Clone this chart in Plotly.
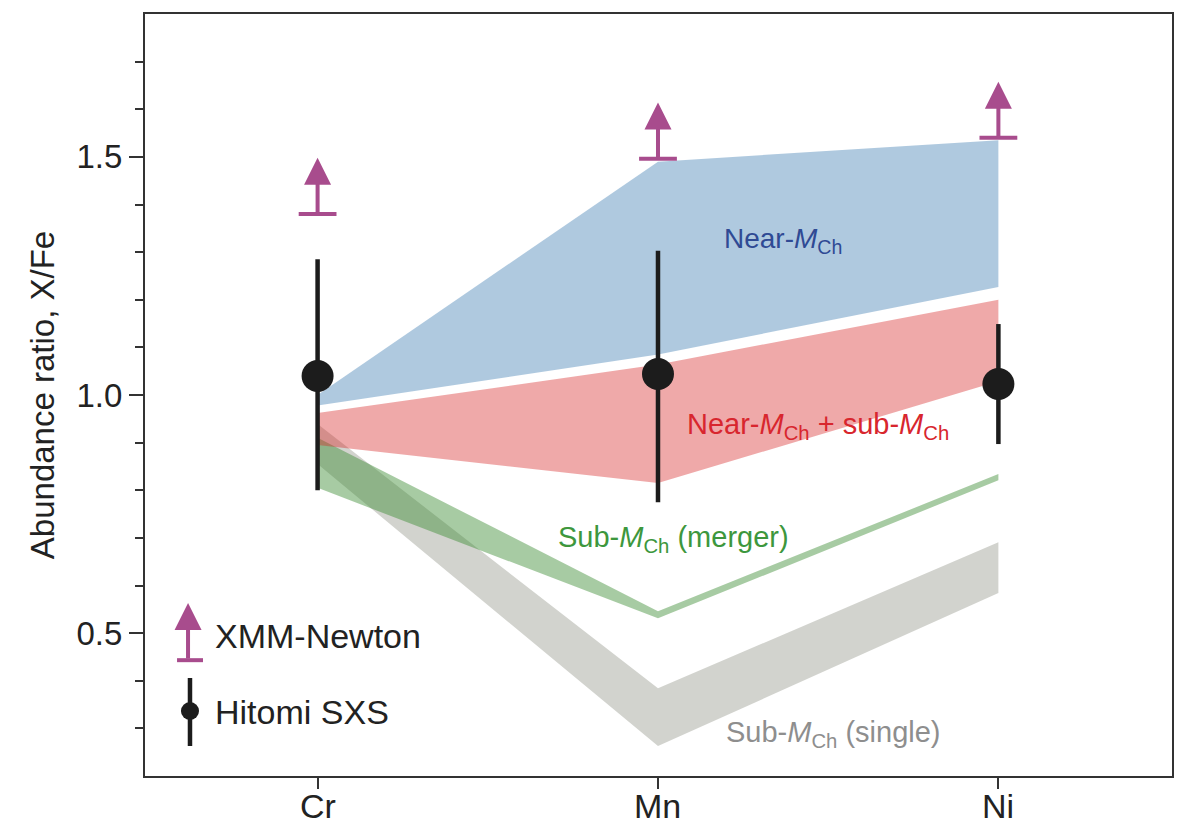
import plotly.graph_objects as go

# ---------------- data ----------------
elements = ["Cr", "Mn", "Ni"]

hitomi_val = [1.040, 1.044, 1.023]
hitomi_hi = [1.285, 1.303, 1.149]
hitomi_lo = [0.800, 0.775, 0.897]

xmm_lower = [1.380, 1.496, 1.540]

near_upper = [1.000, 1.490, 1.535]
near_lower = [0.978, 1.085, 1.227]

mix_upper = [0.962, 1.064, 1.200]
mix_lower = [0.895, 0.815, 1.029]

merger_upper = [0.910, 0.546, 0.834]
merger_lower = [0.805, 0.531, 0.821]

single_upper = [0.939, 0.384, 0.691]
single_lower = [0.855, 0.263, 0.584]

y_ticks = [0.5, 1.0, 1.5]
y_tick_text = ["0.5", "1.0", "1.5"]
y_minor_ticks = [0.3, 0.4, 0.6, 0.7, 0.8, 0.9, 1.1, 1.2, 1.3, 1.4, 1.6, 1.7]

# ---------------- styles ----------------
FONT = "Liberation Sans, Arial, Helvetica, sans-serif"
MAGENTA = "#a84c8d"
BLACK = "#1c1c1c"
AXIS = "#333333"
ARROW_LEN = 0.118

xpos = list(range(len(elements)))

fig = go.Figure()


def band(upper, lower, color):
    fig.add_trace(go.Scatter(
        x=xpos + xpos[::-1],
        y=upper + lower[::-1],
        fill="toself",
        fillcolor=color,
        line=dict(width=0),
        mode="lines",
        hoverinfo="skip",
        showlegend=False,
    ))


band(single_upper, single_lower, "rgba(140,142,130,0.39)")
band(merger_upper, merger_lower, "rgba(60,140,50,0.45)")
band(mix_upper, mix_lower, "rgba(214,39,40,0.40)")
band(near_upper, near_lower, "rgba(70,130,180,0.43)")

# Hitomi SXS points with error bars
fig.add_trace(go.Scatter(
    x=xpos,
    y=hitomi_val,
    mode="markers",
    marker=dict(size=32, color=BLACK),
    error_y=dict(
        type="data",
        symmetric=False,
        array=[h - v for h, v in zip(hitomi_hi, hitomi_val)],
        arrayminus=[v - l for v, l in zip(hitomi_val, hitomi_lo)],
        thickness=4.5,
        width=0,
        color=BLACK,
    ),
    showlegend=False,
))

# XMM-Newton lower-limit bars
fig.add_trace(go.Scatter(
    x=xpos,
    y=xmm_lower,
    mode="markers",
    marker=dict(symbol="line-ew", size=27, line=dict(width=4, color=MAGENTA), color=MAGENTA),
    showlegend=False,
))

ARROW_KW = dict(showarrow=True, arrowhead=2, arrowsize=1.35, arrowwidth=4,
                arrowcolor=MAGENTA, text="")

annotations = []
for xi, lo in zip(xpos, xmm_lower):
    annotations.append(dict(
        x=xi, y=lo + ARROW_LEN, ax=xi, ay=lo,
        xref="x", yref="y", axref="x", ayref="y", **ARROW_KW,
    ))

# x-axis category labels (drawn as annotations to control their placement)
for xi, name in zip(xpos, elements):
    annotations.append(dict(
        x=xi, y=-0.0394, xref="x", yref="paper", showarrow=False,
        xanchor="center", yanchor="middle", text=name,
        font=dict(family=FONT, size=34, color="#222222"),
    ))

LBL = 29
# band labels
annotations += [
    dict(x=1.367, y=1.324, xref="x", yref="y", showarrow=False,
         text="Near-<i>M</i><sub>Ch</sub>",
         font=dict(family=FONT, size=28, color="#2f4a94")),
    dict(x=1.47, y=0.935, xref="x", yref="y", showarrow=False,
         text="Near-<i>M</i><sub>Ch</sub> + sub-<i>M</i><sub>Ch</sub>",
         font=dict(family=FONT, size=LBL, color="#d8262e")),
    dict(x=1.045, y=0.697, xref="x", yref="y", showarrow=False,
         text="Sub-<i>M</i><sub>Ch</sub> (merger)",
         font=dict(family=FONT, size=LBL, color="#3d973d")),
    dict(x=1.517, y=0.288, xref="x", yref="y", showarrow=False,
         text="Sub-<i>M</i><sub>Ch</sub> (single)",
         font=dict(family=FONT, size=LBL, color="#8e8e8e")),
]

# legend (drawn in paper coordinates)
annotations += [
    dict(x=0.0419, y=0.227, xref="paper", yref="paper", ax=0, ay=57,
         axref="pixel", ayref="pixel", **ARROW_KW),
    dict(x=0.066, y=0.184, xref="paper", yref="paper", showarrow=False,
         xanchor="left", yanchor="middle", text="XMM-Newton",
         font=dict(family=FONT, size=34, color="#222222")),
    dict(x=0.066, y=0.084, xref="paper", yref="paper", showarrow=False,
         xanchor="left", yanchor="middle", text="Hitomi SXS",
         font=dict(family=FONT, size=34, color="#222222")),
]

shapes = [
    dict(type="line", xref="paper", yref="paper", x0=0.0312, x1=0.0565,
         y0=0.152, y1=0.152, line=dict(color=MAGENTA, width=4)),
    dict(type="line", xref="paper", yref="paper", x0=0.0438, x1=0.0438,
         y0=0.0394, y1=0.1286, line=dict(color=BLACK, width=4.5)),
    dict(type="circle", xref="paper", yref="paper", x0=0.0350, x1=0.0526,
         y0=0.0735, y1=0.0971, fillcolor=BLACK, line=dict(color=BLACK, width=0)),
]

fig.update_layout(
    width=1184, height=826,
    margin=dict(l=145, r=12, t=14, b=50),
    paper_bgcolor="white", plot_bgcolor="white",
    showlegend=False,
    annotations=annotations,
    shapes=shapes,
    font=dict(family=FONT, color="#222222"),
)

fig.update_xaxes(
    range=[-0.507, 2.51],
    tickvals=xpos, showticklabels=False,
    ticks="outside", ticklen=11, tickwidth=2, tickcolor=AXIS,
    showline=True, linewidth=2, linecolor=AXIS, mirror=True,
    showgrid=False, zeroline=False, automargin=False,
)

fig.update_yaxes(
    range=[0.2, 1.8],
    tickvals=y_ticks, ticktext=y_tick_text,
    ticks="outside", ticklen=14, tickwidth=2, tickcolor=AXIS,
    minor=dict(tickvals=y_minor_ticks, ticks="outside", ticklen=8, tickwidth=2, tickcolor=AXIS),
    showline=True, linewidth=2, linecolor=AXIS, mirror=True,
    showgrid=False, zeroline=False, automargin=False,
    tickfont=dict(family=FONT, size=33, color="#222222"),
    ticklabelstandoff=0,
    title=dict(text="Abundance ratio, X/Fe", standoff=12,
               font=dict(family=FONT, size=33, color="#222222")),
)

fig.write_html("out.html")
